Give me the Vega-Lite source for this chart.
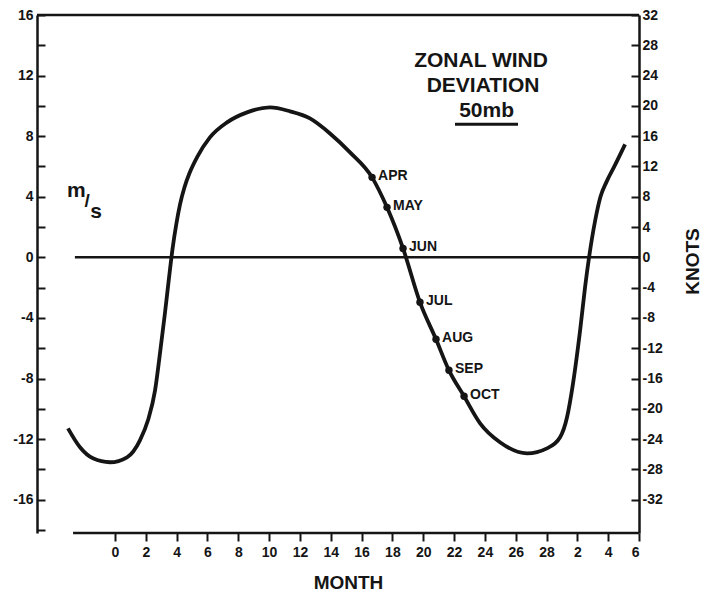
{
  "$schema": "https://vega.github.io/schema/vega-lite/v6.json",
  "width": 602,
  "height": 518,
  "autosize": "none",
  "padding": {"left": 37, "top": 15, "right": 66, "bottom": 60},
  "background": "white",
  "config": {
    "view": {"stroke": null},
    "font": "Liberation Sans",
    "axis": {
      "grid": false,
      "domainColor": "#151515",
      "domainWidth": 2.5,
      "tickColor": "#151515",
      "tickWidth": 2,
      "labelFont": "Liberation Sans",
      "labelFontWeight": "bold",
      "labelFontSize": 14,
      "labelColor": "#151515",
      "titleFont": "Liberation Sans",
      "titleFontWeight": "bold",
      "titleColor": "#151515"
    }
  },
  "datasets": {
    "curve": [
      {"month": -3.05, "value": -11.29},
      {"month": -2.27, "value": -12.54},
      {"month": -1.43, "value": -13.27},
      {"month": -0.32, "value": -13.53},
      {"month": 0.78, "value": -13.2},
      {"month": 1.62, "value": -12.08},
      {"month": 2.14, "value": -10.76},
      {"month": 2.6, "value": -8.78},
      {"month": 2.92, "value": -6.34},
      {"month": 3.24, "value": -3.7},
      {"month": 3.5, "value": -1.4},
      {"month": 3.74, "value": 0.6},
      {"month": 3.98, "value": 2.2},
      {"month": 4.22, "value": 3.5},
      {"month": 4.5, "value": 4.6},
      {"month": 4.85, "value": 5.6},
      {"month": 5.32, "value": 6.6},
      {"month": 6.16, "value": 7.92},
      {"month": 7.27, "value": 8.91},
      {"month": 8.57, "value": 9.57},
      {"month": 10.06, "value": 9.9},
      {"month": 11.36, "value": 9.64},
      {"month": 12.65, "value": 9.17},
      {"month": 13.95, "value": 8.18},
      {"month": 15.25, "value": 6.93},
      {"month": 16.68, "value": 5.28},
      {"month": 17.65, "value": 3.3},
      {"month": 18.69, "value": 0.59},
      {"month": 19.79, "value": -2.97},
      {"month": 20.83, "value": -5.41},
      {"month": 21.67, "value": -7.46},
      {"month": 22.65, "value": -9.17},
      {"month": 23.69, "value": -10.96},
      {"month": 24.98, "value": -12.21},
      {"month": 26.74, "value": -12.94},
      {"month": 28.03, "value": -12.61},
      {"month": 28.88, "value": -11.88},
      {"month": 29.33, "value": -10.56},
      {"month": 29.72, "value": -8.32},
      {"month": 30.18, "value": -4.82},
      {"month": 30.5, "value": -1.98},
      {"month": 30.76, "value": 0},
      {"month": 31.15, "value": 2.4},
      {"month": 31.5, "value": 4.0},
      {"month": 31.9, "value": 5.0},
      {"month": 32.4, "value": 6.0},
      {"month": 33.1, "value": 7.46}
    ],
    "points": [
      {"month": 16.68, "value": 5.28, "label": "APR"},
      {"month": 17.65, "value": 3.3, "label": "MAY"},
      {"month": 18.69, "value": 0.59, "label": "JUN"},
      {"month": 19.79, "value": -2.97, "label": "JUL"},
      {"month": 20.83, "value": -5.41, "label": "AUG"},
      {"month": 21.67, "value": -7.46, "label": "SEP"},
      {"month": 22.65, "value": -9.17, "label": "OCT"}
    ],
    "rules": [
      {"x": -5.06, "x2": 34, "y": 16, "w": 2.5},
      {"x": -2.6, "x2": 34, "y": 0, "w": 2.5},
      {"x": -2.72, "x2": 34, "y": -18.2, "w": 2.5},
      {"x": 22.06, "x2": 26.15, "y": 8.78, "w": 3}
    ],
    "titles": [
      {"x": 23.75, "y": 12.97, "text": "ZONAL WIND"},
      {"x": 23.88, "y": 11.32, "text": "DEVIATION"},
      {"x": 24.11, "y": 9.67, "text": "50mb"}
    ],
    "unit": [
      {"x": -2.5, "y": 4.36, "text": "m", "size": 21},
      {"x": -1.8, "y": 3.7, "text": "/", "size": 19},
      {"x": -1.22, "y": 3.0, "text": "s", "size": 21}
    ]
  },
  "resolve": {"scale": {"y": "shared", "x": "shared"}, "axis": {"y": "independent", "x": "independent"}},
  "layer": [
    {
      "data": {"name": "curve"},
      "mark": {"type": "line", "interpolate": "monotone", "color": "#151515", "strokeWidth": 3.8},
      "encoding": {
        "x": {
          "field": "month", "type": "quantitative",
          "scale": {"domain": [-5.06, 34], "nice": false, "zero": false},
          "axis": {
            "orient": "bottom",
            "domain": false,
            "values": [0, 2, 4, 6, 8, 10, 12, 14, 16, 18, 20, 22, 24, 26, 28, 30, 32, 34],
            "labelExpr": "datum.value > 28 ? '' + (datum.value - 28) : '' + datum.value",
            "tickSize": 8,
            "labelPadding": 4,
            "title": "MONTH",
            "titleFontSize": 19,
            "titleX": 311,
            "titleY": 49,
            "titleAlign": "center",
            "titleBaseline": "middle"
          }
        },
        "y": {
          "field": "value", "type": "quantitative",
          "scale": {"domain": [-18.2, 16], "nice": false, "zero": false},
          "axis": {
            "orient": "left",
            "values": [-18, -16, -14, -12, -10, -8, -6, -4, -2, 0, 2, 4, 6, 8, 10, 12, 14, 16],
            "labelExpr": "(datum.value % 4 == 0 && datum.value >= -16) ? '' + datum.value : ''",
            "tickSize": -8,
            "labelPadding": 12,
            "title": null
          }
        }
      }
    },
    {
      "data": {"name": "rules"},
      "mark": {"type": "rule", "color": "#151515"},
      "encoding": {
        "x": {"field": "x", "type": "quantitative", "axis": null, "scale": {"domain": [-5.06, 34], "nice": false, "zero": false}},
        "x2": {"field": "x2"},
        "strokeWidth": {"field": "w", "type": "quantitative", "scale": null},
        "y": {
          "field": "y", "type": "quantitative",
          "scale": {"domain": [-18.2, 16], "nice": false, "zero": false},
          "axis": {
            "orient": "right",
            "values": [-16, -14, -12, -10, -8, -6, -4, -2, 0, 2, 4, 6, 8, 10, 12, 14, 16],
            "labelExpr": "'' + (datum.value * 2)",
            "tickSize": -8,
            "labelPadding": 11,
            "title": "KNOTS",
            "titleFontSize": 19,
            "titleAngle": 270,
            "titleX": 53,
            "titleY": 246,
            "titleAlign": "center",
            "titleBaseline": "middle"
          }
        }
      }
    },
    {
      "data": {"name": "points"},
      "mark": {"type": "circle", "size": 55, "color": "#151515", "opacity": 1},
      "encoding": {
        "x": {"field": "month", "type": "quantitative", "axis": null, "scale": {"domain": [-5.06, 34], "nice": false, "zero": false}},
        "y": {"field": "value", "type": "quantitative", "axis": null, "scale": {"domain": [-18.2, 16], "nice": false, "zero": false}}
      }
    },
    {
      "data": {"name": "points"},
      "mark": {"type": "text", "align": "left", "baseline": "middle", "dx": 6, "dy": -1, "font": "Liberation Sans", "fontWeight": "bold", "fontSize": 14, "color": "#151515"},
      "encoding": {
        "x": {"field": "month", "type": "quantitative", "axis": null, "scale": {"domain": [-5.06, 34], "nice": false, "zero": false}},
        "y": {"field": "value", "type": "quantitative", "axis": null, "scale": {"domain": [-18.2, 16], "nice": false, "zero": false}},
        "text": {"field": "label"}
      }
    },
    {
      "data": {"name": "titles"},
      "mark": {"type": "text", "align": "center", "baseline": "middle", "font": "Liberation Sans", "fontWeight": "bold", "fontSize": 21, "color": "#151515"},
      "encoding": {
        "x": {"field": "x", "type": "quantitative", "axis": null, "scale": {"domain": [-5.06, 34], "nice": false, "zero": false}},
        "y": {"field": "y", "type": "quantitative", "axis": null, "scale": {"domain": [-18.2, 16], "nice": false, "zero": false}},
        "text": {"field": "text"}
      }
    },
    {
      "data": {"name": "unit"},
      "mark": {"type": "text", "align": "center", "baseline": "middle", "font": "Liberation Sans", "fontWeight": "bold", "color": "#151515"},
      "encoding": {
        "x": {"field": "x", "type": "quantitative", "axis": null, "scale": {"domain": [-5.06, 34], "nice": false, "zero": false}},
        "y": {"field": "y", "type": "quantitative", "axis": null, "scale": {"domain": [-18.2, 16], "nice": false, "zero": false}},
        "text": {"field": "text"},
        "size": {"field": "size", "type": "quantitative", "scale": null}
      }
    }
  ]
}
